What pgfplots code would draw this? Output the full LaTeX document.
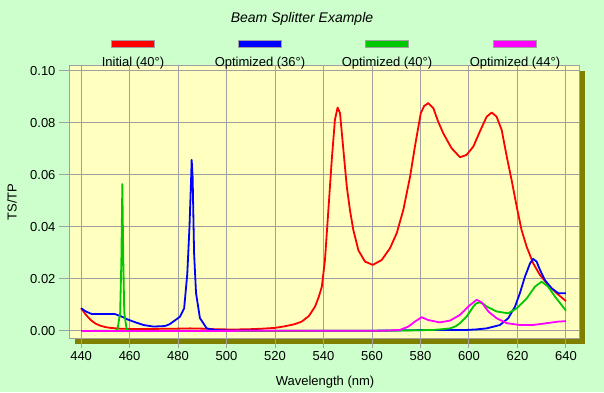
\documentclass[border=0pt]{standalone}
\usepackage{pgfplots}
\pgfplotsset{compat=1.18}
\usepackage{fontspec}
\setmainfont{Liberation Sans}
\definecolor{bggreen}{HTML}{CCFFCC}
\definecolor{plotyellow}{HTML}{FFFFC0}
\definecolor{gridgray}{HTML}{A0A0A0}
\definecolor{shadowol}{HTML}{808000}
\definecolor{cgreen}{HTML}{00C800}
\definecolor{cmag}{HTML}{FF00FF}
\definecolor{cred}{HTML}{FF0000}
\definecolor{cblue}{HTML}{0000FF}
\begin{document}
\begin{tikzpicture}[x=1bp,y=1bp,font=\fontsize{13bp}{15bp}\selectfont]
\fill[bggreen] (0,0) rectangle (604,392);
\useasboundingbox (0,0) rectangle (604,392);
\fill[shadowol] (75,48) rectangle (585,321);
\begin{axis}[
  at={(69bp,54bp)}, anchor=south west, scale only axis,
  width=510bp, height=272.3bp,
  xmin=435, xmax=645.4, ymin=-0.0027, ymax=0.102,
  axis background/.style={fill=plotyellow},
  axis line style={gridgray, line width=1bp},
  grid=major, grid style={gridgray, line width=1bp},
  tick style={gridgray, line width=1bp},
  major tick length=10bp, tick align=outside, tick pos=left,
  xtick={440,460,480,500,520,540,560,580,600,620,640},
  ytick={0,0.02,0.04,0.06,0.08,0.1},
  scaled y ticks=false,
  yticklabel style={/pgf/number format/.cd, fixed, fixed zerofill, precision=2, assume math mode=true},
  xticklabel style={/pgf/number format/assume math mode=true},
  every axis y label/.style={at={(axis description cs:-0.112,0.5)}, rotate=90, anchor=center},
  every axis x label/.style={at={(axis description cs:0.502,-0.162)}, anchor=center},
  ylabel={TS/TP}, xlabel={Wavelength (nm)},
  every axis plot/.append style={line width=1.8bp, line join=round},
]
\addplot[cred] coordinates {(440,0.0088)(442,0.0062)(444,0.0042)(446,0.0028)(448,0.002)(450,0.0015)(452,0.0012)(456,0.0009)(460,0.0008)(470,0.0008)(480,0.0009)(485,0.001)(490,0.0009)(495,0.0007)(500,0.0006)(505,0.0006)(510,0.0007)(515,0.0009)(520,0.0012)(524,0.0018)(528,0.0026)(531,0.0036)(534,0.0058)(536.5,0.0094)(538,0.013)(539.3,0.017)(540.6,0.0273)(542,0.0465)(543.4,0.0658)(544.7,0.0812)(545.8,0.0859)(546.8,0.0838)(548.2,0.0696)(549.6,0.0555)(550.9,0.0465)(552.3,0.0388)(554.4,0.031)(557.1,0.0267)(560.3,0.0254)(564,0.0273)(567.4,0.0318)(570.2,0.0376)(572.9,0.0465)(575.7,0.0593)(577.7,0.0709)(580.1,0.0837)(581.5,0.0865)(583.2,0.0876)(585.3,0.0857)(587.3,0.0805)(589.4,0.076)(592.8,0.0703)(596.3,0.0668)(599,0.0677)(601.8,0.0709)(604.5,0.0767)(607.3,0.0824)(609.4,0.084)(611.4,0.0824)(613.5,0.0773)(615.6,0.067)(617.6,0.058)(619.7,0.0478)(621.7,0.0388)(623.8,0.0324)(626.5,0.026)(629.3,0.0215)(632.7,0.0177)(636.2,0.0145)(640,0.0115)};
\addplot[cblue] coordinates {(440,0.0087)(442,0.0075)(444.4,0.0065)(450,0.0065)(454,0.0065)(456.8,0.0055)(459,0.0045)(461.6,0.0036)(465.7,0.0023)(469.8,0.0017)(474.6,0.0019)(476.5,0.0026)(478,0.0036)(480.8,0.0055)(482.5,0.0087)(483.8,0.022)(484.7,0.040)(485.4,0.0593)(485.6,0.0658)(486,0.0593)(486.6,0.030)(487.4,0.0146)(489,0.005)(491.8,0.001)(495,0.0004)(500,0.0002)(520,0.0001)(560,0.0001)(585,0.0004)(599,0.0004)(603,0.0006)(607.3,0.001)(612.8,0.0023)(616.2,0.0049)(619,0.0094)(621,0.0145)(623.1,0.0209)(625.2,0.026)(626.5,0.0277)(627.9,0.0267)(629.3,0.0235)(631.3,0.0196)(634.1,0.0164)(636.9,0.0145)(640,0.0145)};
\addplot[cgreen] coordinates {(440,0)(454,0.0001)(455,0.0006)(456.1,0.007)(456.6,0.027)(457,0.0565)(457.4,0.027)(457.8,0.007)(458.8,0.0006)(460,0.0001)(500,0)(567,0.0001)(580,0.0003)(585.3,0.0004)(589,0.0007)(592.2,0.001)(594.5,0.0018)(596.3,0.003)(599,0.0055)(601.8,0.0094)(603,0.0106)(604.5,0.011)(606,0.0104)(607.3,0.0094)(611.4,0.0075)(616.2,0.0068)(619.7,0.0087)(623.8,0.0125)(627.2,0.017)(630,0.019)(632.7,0.017)(635.5,0.0132)(638.2,0.01)(640,0.0078)};
\addplot[cmag] coordinates {(440,0)(565,0.0001)(567.4,0.0002)(571.5,0.0004)(575,0.0017)(577.7,0.0036)(580.5,0.0053)(583.2,0.0042)(588,0.0033)(592.2,0.004)(596.3,0.0062)(599.7,0.0094)(603.2,0.012)(605.2,0.011)(608,0.0075)(611.4,0.0049)(615.6,0.003)(621,0.0023)(626.5,0.0023)(632,0.003)(636.9,0.0036)(640,0.0038)};
\end{axis}
\node[font=\fontsize{14bp}{16bp}\selectfont\itshape] at (302,373) {Beam Splitter Example};
\foreach \cx/\col/\txt in {133/cred/{Initial (40°)},260/cblue/{Optimized (36°)},387/cgreen/{Optimized (40°)},515/cmag/{Optimized (44°)}}{
  \filldraw[fill=\col, draw=gridgray, line width=1bp] (\cx-21.5,344.5) rectangle (\cx+21.5,351.5);
  \node at (\cx,329) {\txt};
}
\end{tikzpicture}
\end{document}
